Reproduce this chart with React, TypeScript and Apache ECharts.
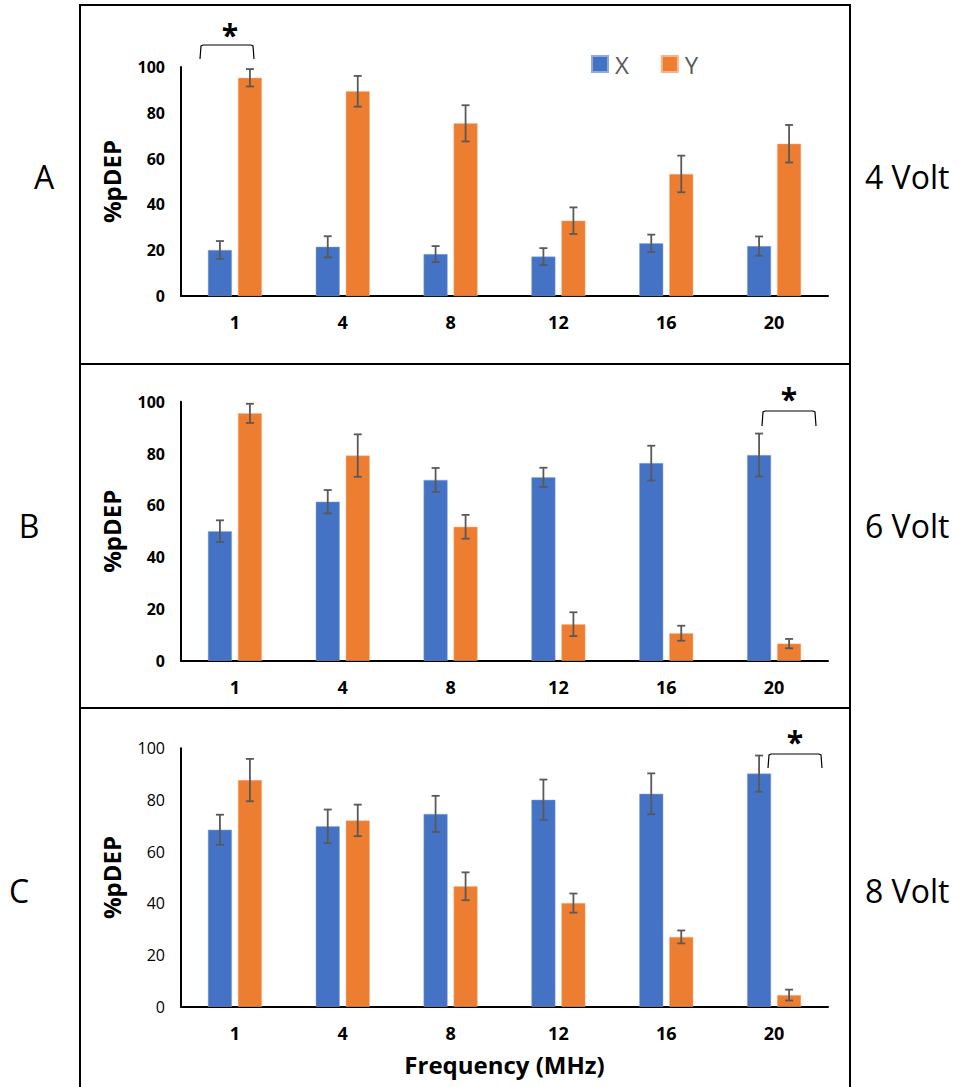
import React, { useEffect, useRef } from "react";
import * as echarts from "echarts";

const categories = ["1", "4", "8", "12", "16", "20"];
const yTicks = [0, 20, 40, 60, 80, 100];

// Panel A (4 Volt)
const aX = [20.1, 21.5, 18.3, 17.2, 23.0, 21.8];
const aXErr = [3.9, 4.6, 3.5, 3.7, 3.8, 4.2];
const aY = [95.3, 89.4, 75.4, 32.9, 53.3, 66.5];
const aYErr = [3.8, 6.7, 7.9, 5.8, 8.0, 8.2];
// Panel B (6 Volt)
const bX = [50.0, 61.4, 69.8, 70.8, 76.3, 79.4];
const bXErr = [4.2, 4.5, 4.6, 3.7, 6.7, 8.3];
const bY = [95.5, 79.2, 51.7, 14.1, 10.6, 6.6];
const bYErr = [3.7, 8.2, 4.6, 4.6, 2.9, 1.8];
// Panel C (8 Volt)
const cX = [68.5, 69.8, 74.6, 80.1, 82.4, 90.2];
const cXErr = [5.8, 6.5, 7.0, 7.8, 7.9, 7.0];
const cY = [87.7, 72.1, 46.6, 40.1, 27.0, 4.5];
const cYErr = [8.2, 6.1, 5.4, 3.7, 2.5, 2.1];

const panelLetters = ["A", "B", "C"];
const voltLabels = ["4 Volt", "6 Volt", "8 Volt"];
const seriesNames = ["X", "Y"];
const xAxisTitle = "Frequency (MHz)";
const yAxisTitle = "%pDEP";

const BLUE = "#4472C4";
const ORANGE = "#ED7D31";
const ERR = "#595959";
const FONT = "'Open Sans', 'Noto Sans', sans-serif";

const BAR_W = 24;
const BAR_OFF = 15;

export default function App() {
  const ref = useRef<HTMLDivElement>(null);

  useEffect(() => {
    if (!ref.current) return;
    const chart = echarts.init(ref.current, undefined, { renderer: "svg" });

    const panels = [
      { x: aX, xe: aXErr, y: aY, ye: aYErr, top: 67, height: 229, boldY: true },
      { x: bX, xe: bXErr, y: bY, ye: bYErr, top: 401.7, height: 259, boldY: true },
      { x: cX, xe: cXErr, y: cY, ye: cYErr, top: 748.3, height: 258.4, boldY: false },
    ];

    const grids = panels.map((p) => ({
      left: 181,
      width: 647,
      top: p.top,
      height: p.height,
      containLabel: false,
    }));

    const xAxes = panels.map((_, i) => ({
      type: "category",
      gridIndex: i,
      data: categories,
      axisLine: { show: true, lineStyle: { color: "#000", width: 2 } },
      axisTick: { show: false },
      axisLabel: {
        color: "#000",
        fontWeight: "bold",
        fontSize: 18,
        fontFamily: FONT,
        margin: 17,
      },
      ...(i === 2
        ? {
            name: xAxisTitle,
            nameLocation: "middle",
            nameGap: 46,
            nameTextStyle: {
              color: "#000",
              fontWeight: "bold",
              fontSize: 24,
              fontFamily: FONT,
            },
          }
        : {}),
    }));

    const yAxes = panels.map((p, i) => ({
      type: "value",
      gridIndex: i,
      min: yTicks[0],
      max: yTicks[yTicks.length - 1],
      interval: 20,
      axisLine: { show: true, lineStyle: { color: "#000", width: 2 } },
      axisTick: { show: false },
      splitLine: { show: false },
      axisLabel: {
        color: "#000",
        fontWeight: p.boldY ? "bold" : "normal",
        fontSize: 16,
        fontFamily: FONT,
        margin: 16,
      },
      name: yAxisTitle,
      nameLocation: "middle",
      nameGap: 58,
      nameTextStyle: {
        color: "#000",
        fontWeight: "bold",
        fontSize: 24,
        fontFamily: FONT,
      },
    }));

    const errSeries = (vals: number[], errs: number[], gi: number, off: number, name: string) => ({
      type: "custom",
      name,
      xAxisIndex: gi,
      yAxisIndex: gi,
      z: 5,
      data: vals.map((v, k) => [k, v, errs[k]]),
      renderItem: (params: any, api: any) => {
        const idx = api.value(0);
        const v = api.value(1);
        const e = api.value(2);
        const hi = api.coord([idx, v + e]);
        const lo = api.coord([idx, v - e]);
        const x = hi[0] + off;
        const cap = 4;
        const style = { stroke: ERR, lineWidth: 1.8, fill: "none" };
        return {
          type: "group",
          children: [
            { type: "line", shape: { x1: x, y1: hi[1], x2: x, y2: lo[1] }, style },
            { type: "line", shape: { x1: x - cap, y1: hi[1], x2: x + cap, y2: hi[1] }, style },
            { type: "line", shape: { x1: x - cap, y1: lo[1], x2: x + cap, y2: lo[1] }, style },
          ],
        };
      },
    });

    const series: any[] = [];
    panels.forEach((p, i) => {
      series.push({
        type: "bar",
        name: seriesNames[0],
        xAxisIndex: i,
        yAxisIndex: i,
        data: p.x,
        barWidth: BAR_W,
        barGap: "25%",
        itemStyle: { color: BLUE, borderColor: "#8fa9dc", borderWidth: 0.5 },
      });
      series.push({
        type: "bar",
        name: seriesNames[1],
        xAxisIndex: i,
        yAxisIndex: i,
        data: p.y,
        barWidth: BAR_W,
        barGap: "25%",
        itemStyle: { color: ORANGE, borderColor: "#f5b48a", borderWidth: 0.5 },
      });
      series.push(errSeries(p.x, p.xe, i, -BAR_OFF, "X error " + i));
      series.push(errSeries(p.y, p.ye, i, BAR_OFF, "Y error " + i));
    });

    const bracket = (x1: number, x2: number, yTop: number, yBot: number) => ({
      type: "polyline",
      shape: {
        points: [
          [x1, yBot],
          [x1 + 1, yTop + 1],
          [x1 + 3, yTop],
          [x2 - 3, yTop],
          [x2 - 1, yTop + 1],
          [x2, yBot],
        ],
      },
      style: { stroke: "#000", lineWidth: 1.2, fill: "none" },
      silent: true,
    });
    const star = (x: number, y: number) => ({
      type: "text",
      x,
      y,
      style: {
        text: "*",
        fontSize: 30,
        fontWeight: "bold",
        fontFamily: FONT,
        fill: "#000",
        align: "center",
        verticalAlign: "middle",
      },
    });
    const sideText = (text: string, x: number, y: number, align: string) => ({
      type: "text",
      x,
      y,
      style: {
        text,
        fontSize: 32,
        fontFamily: FONT,
        fill: "#000",
        align,
        verticalAlign: "middle",
      },
    });
    const hline = (x1: number, x2: number, y: number) => ({
      type: "line",
      shape: { x1, y1: y, x2, y2: y },
      style: { stroke: "#000", lineWidth: 2 },
      silent: true,
    });
    const vline = (x: number, y1: number, y2: number) => ({
      type: "line",
      shape: { x1: x, y1, x2: x, y2 },
      style: { stroke: "#000", lineWidth: 2 },
      silent: true,
    });

    const panelCenters = [176, 525, 890];
    const leftXs = [44, 29, 19];

    const graphic: any[] = [
      hline(79, 851, 5),
      hline(79, 851, 364),
      hline(79, 851, 708),
      vline(80, 4, 1087),
      vline(850, 4, 1087),
      bracket(200, 254, 45, 59),
      star(230, 34),
      bracket(762, 816, 411, 426),
      star(789, 398),
      bracket(768, 822, 754, 768),
      star(795, 741),
    ];
    panelCenters.forEach((cy, i) => {
      graphic.push(sideText(panelLetters[i], leftXs[i], cy, "center"));
      graphic.push(sideText(voltLabels[i], 865, cy, "left"));
    });

    chart.setOption({
      animation: false,
      backgroundColor: "#fff",
      grid: grids,
      xAxis: xAxes,
      yAxis: yAxes,
      legend: {
        data: seriesNames,
        left: 591,
        top: 52,
        icon: "rect",
        itemWidth: 16,
        itemHeight: 16,
        itemGap: 32,
        padding: 0,
        textStyle: {
          color: "#595959",
          fontSize: 24,
          fontFamily: FONT,
          padding: [0, 0, 0, 2],
        },
        selectedMode: false,
      },
      series,
      graphic,
    });

    return () => chart.dispose();
  }, []);

  return (
    <div
      ref={ref}
      style={{ position: "absolute", left: 0, top: 0, width: 958, height: 1087 }}
    />
  );
}
